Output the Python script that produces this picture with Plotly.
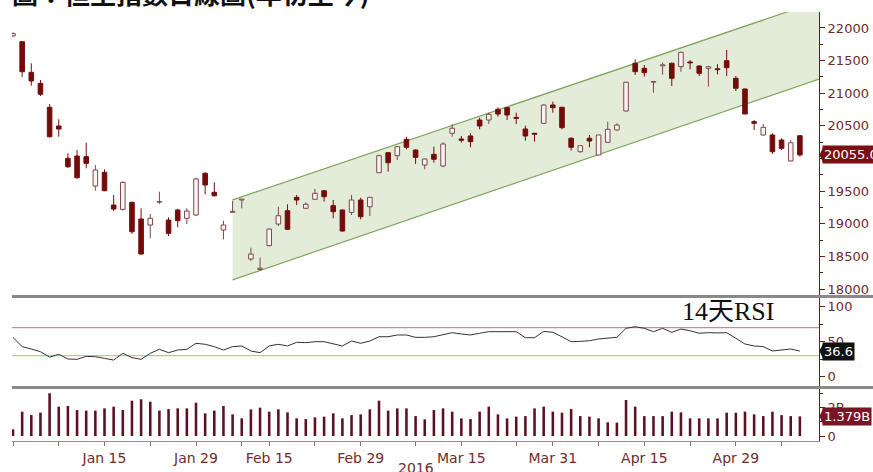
import plotly.graph_objects as go

# ---------------- data ----------------
dec_days = [31]
jan_days = [4, 5, 6, 7, 8, 11, 12, 13, 14, 15, 18, 19, 20, 21, 22, 25, 26, 27, 28, 29]
feb_days = [1, 2, 3, 4, 5, 11, 12, 15, 16, 17, 18, 19, 22, 23, 24, 25, 26, 29]
mar_days = [1, 2, 3, 4, 7, 8, 9, 10, 11, 14, 15, 16, 17, 18, 21, 22, 23, 24, 29, 30, 31]
apr_days = [1, 5, 6, 7, 8, 11, 12, 13, 14, 15, 18, 19, 20, 21, 22, 25, 26, 27, 28, 29]
may_days = [3, 4, 5, 6, 9, 10, 11]
dates = ([f"2015-12-{d:02d}" for d in dec_days] + [f"2016-01-{d:02d}" for d in jan_days] +
         [f"2016-02-{d:02d}" for d in feb_days] + [f"2016-03-{d:02d}" for d in mar_days] +
         [f"2016-04-{d:02d}" for d in apr_days] + [f"2016-05-{d:02d}" for d in may_days])

opens = [21880, 21790, 21321, 21152, 20785, 20498, 20003, 20038, 20028, 19578,
         19788, 19287, 19221, 19328, 19073, 18981, 19330, 19057, 19211, 19083,
         19134, 19773, 19482, 18904, 19175, 19365, 18460, 18300, 18664, 18996,
         19200, 19405, 19237, 19375, 19506, 19277, 19211, 19175, 19364, 19261,
         19782, 20089, 20043, 20294, 20130, 19900, 20064, 19885, 20386, 20299,
         20345, 20590, 20590, 20754, 20779, 20630, 20452, 20386, 20539, 20820,
         20785, 20310, 20104, 20310, 20054, 20248, 20437, 20728, 21459, 21382,
         21170, 21420, 21459, 21407, 21479, 21418, 21382, 21375, 21499, 21229,
         21065, 20564, 20360, 20360, 20283, 19962, 20349]
highs = [21935, 21795, 21459, 21203, 20835, 20601, 20080, 20130, 20242, 19900,
         19834, 19441, 19650, 19340, 19236, 19149, 19491, 19099, 19230, 19237,
         19706, 19790, 19635, 19047, 19353, 19380, 18633, 18480, 18925, 19261,
         19298, 19441, 19329, 19533, 19515, 19364, 19215, 19441, 19399, 19410,
         20060, 20095, 20190, 20334, 20140, 20000, 20181, 20250, 20524, 20345,
         20386, 20625, 20702, 20785, 20790, 20702, 20503, 20390, 20830, 20871,
         20790, 20325, 20200, 20360, 20365, 20564, 20540, 21175, 21520, 21433,
         21190, 21470, 21470, 21637, 21510, 21425, 21420, 21444, 21663, 21264,
         21070, 20590, 20529, 20386, 20310, 20283, 20355]
lows = [21860, 21250, 21116, 20958, 20320, 20334, 19854, 19690, 19850, 19506,
        19500, 19195, 19200, 18843, 18530, 18777, 19303, 18812, 18946, 18996,
        19120, 19451, 19415, 18762, 19170, 19236, 18429, 18280, 18655, 18965,
        18905, 19287, 19230, 19370, 19338, 19083, 18880, 19134, 19068, 19119,
        19780, 19798, 19977, 20141, 19916, 19834, 19936, 19865, 20334, 20242,
        20172, 20447, 20529, 20641, 20590, 20529, 20273, 20258, 20530, 20702,
        20447, 20120, 20090, 20172, 20050, 20240, 20425, 20720, 21280, 21254,
        21008, 21285, 21111, 21330, 21367, 21264, 21101, 21290, 21264, 21034,
        20680, 20437, 20350, 20069, 20130, 19955, 20028]
closes = [21914, 21330, 21188, 20984, 20334, 20452, 19874, 19706, 19926, 19824,
          19506, 19226, 19635, 18878, 18536, 19083, 19340, 18853, 19047, 19195,
          19686, 19594, 19430, 18981, 19190, 19378, 18536, 18319, 18919, 19123,
          18915, 19364, 19298, 19467, 19415, 19185, 18889, 19364, 19108, 19405,
          20043, 19936, 20181, 20172, 20018, 19992, 19988, 20222, 20463, 20279,
          20258, 20498, 20677, 20682, 20667, 20615, 20345, 20371, 20820, 20779,
          20472, 20172, 20196, 20268, 20360, 20447, 20513, 21168, 21330, 21315,
          21180, 21436, 21229, 21628, 21465, 21306, 21407, 21361, 21392, 21076,
          20682, 20539, 20478, 20104, 20156, 20242, 20055]

rsi = [56, 43, 39.6, 35.7, 28, 32, 25.3, 24.8, 29, 28.6,
       26.2, 23.8, 33.4, 27.2, 24.8, 33.4, 39.1, 34.3, 38.1, 39.1,
       47.7, 46.3, 42.9, 38.1, 42.9, 43.9, 36.7, 34.3, 43.9, 46.3,
       43.9, 49.1, 48.6, 50, 50, 46.7, 43.9, 51, 47.7, 51,
       57.1, 57.1, 59.6, 59.6, 56.2, 56.2, 57.1, 60, 62.9, 61,
       59.6, 62, 64.3, 64.3, 64.3, 64.3, 55.7, 55.7, 64.8, 63.4,
       57, 50, 50.5, 51.4, 53.9, 55, 56.3, 69.1, 71.4, 69.1,
       64.3, 69.1, 63.4, 68.1, 65.7, 62, 62.9, 62.5, 62.9, 54.9,
       46.7, 43.9, 42.9, 36.7, 38.1, 39.6, 36.6]

volume_b = [0.47, 1.71, 1.47, 1.64, 3.00, 2.06, 2.11, 1.82, 1.78, 1.78,
            1.94, 2.06, 1.82, 2.48, 2.58, 2.41, 1.78, 1.89, 1.94, 1.94,
            2.34, 1.59, 1.78, 2.11, 1.52, 1.24, 1.87, 1.99, 1.71, 1.87,
            1.66, 1.24, 1.19, 1.31, 1.36, 1.59, 1.24, 1.47, 1.52, 1.87,
            2.48, 1.78, 1.94, 1.94, 1.40, 1.17, 1.82, 1.94, 1.71, 1.24,
            1.19, 1.71, 2.06, 1.52, 1.24, 1.36, 1.40, 1.94, 2.06, 1.71,
            1.64, 1.89, 1.40, 1.36, 1.24, 0.96, 0.94, 2.53, 2.06, 1.40,
            1.40, 1.40, 1.71, 1.66, 1.24, 1.24, 1.24, 1.24, 1.64, 1.64,
            1.71, 1.52, 1.40, 1.71, 1.47, 1.40, 1.379]

# trend channel (x as trading-day index, y in index points)
channel_x = [24, 88.2]
channel_upper = [19367, 22417]
channel_lower = [18140, 21223]

rsi_overbought = 70
rsi_oversold = 30

label_dates = ["2016-01-15", "2016-01-29", "2016-02-15", "2016-02-29",
               "2016-03-15", "2016-03-31", "2016-04-15", "2016-04-29"]
label_text = ["Jan 15", "Jan 29", "Feb 15", "Feb 29", "Mar 15", "Mar 31", "Apr 15", "Apr 29"]
minor_dates = ["2015-12-31", "2016-01-08", "2016-01-22", "2016-02-05", "2016-02-22",
               "2016-03-08", "2016-03-23", "2016-04-08", "2016-04-22", "2016-05-09"]

price_ticks = [18000, 18500, 19000, 19500, 20000, 20500, 21000, 21500, 22000]
price_ticktext = ["18000", "18500", "19000", "19500", "", "20500", "21000", "21500", "22000"]
rsi_ticks = [0, 50, 100]
vol_ticks = [0, 2]
vol_ticktext = ["0", "2B"]

title_text = "圖：恒生指數日線圖(年初至今)"
last_price_text = "20055.06"

# ---------------- build ----------------
idx = list(range(len(dates)))
RED = "#740b0b"
HOLLOW_LINE = "#7d4848"
HOLLOW_FILL = "#fbf4f4"
AXIS = "#6b1a1a"
TXT = "#6e2c2c"

up = [i for i in idx if closes[i] >= opens[i]]
dn = [i for i in idx if closes[i] < opens[i]]


def wick_xy(ids):
    xs, ys = [], []
    for i in ids:
        lo_b = min(opens[i], closes[i])
        hi_b = max(opens[i], closes[i])
        xs += [i, i, None, i, i, None]
        ys += [lows[i], lo_b, None, hi_b, highs[i], None]
    return xs, ys


fig = go.Figure()

wx, wy = wick_xy(dn)
fig.add_trace(go.Scatter(x=wx, y=wy, mode="lines", line=dict(color=RED, width=1),
                         hoverinfo="skip", showlegend=False, xaxis="x", yaxis="y"))
wx, wy = wick_xy(up)
fig.add_trace(go.Scatter(x=wx, y=wy, mode="lines", line=dict(color=HOLLOW_LINE, width=1),
                         hoverinfo="skip", showlegend=False, xaxis="x", yaxis="y"))

fig.add_trace(go.Bar(x=dn, base=[closes[i] for i in dn], y=[opens[i] - closes[i] for i in dn],
                     width=0.5, marker=dict(color=RED, line=dict(color=RED, width=1)),
                     showlegend=False, xaxis="x", yaxis="y"))
fig.add_trace(go.Bar(x=up, base=[opens[i] for i in up], y=[closes[i] - opens[i] for i in up],
                     width=0.5, marker=dict(color=HOLLOW_FILL, line=dict(color=HOLLOW_LINE, width=1)),
                     showlegend=False, xaxis="x", yaxis="y"))

# RSI
fig.add_trace(go.Scatter(x=idx, y=rsi, mode="lines", line=dict(color="#333333", width=1),
                         showlegend=False, xaxis="x", yaxis="y2"))

# Volume
fig.add_trace(go.Bar(x=idx, y=volume_b, width=0.28, marker=dict(color="#5c1020", line=dict(width=0)),
                     showlegend=False, xaxis="x", yaxis="y3"))

shapes = []
path = (f"M {channel_x[0]},{channel_upper[0]} L {channel_x[1]},{channel_upper[1]} "
        f"L {channel_x[1]},{channel_lower[1]} L {channel_x[0]},{channel_lower[0]} Z")
shapes.append(dict(type="path", xref="x", yref="y", path=path, fillcolor="#e3ecd8",
                   line=dict(width=0), layer="below"))
shapes.append(dict(type="line", xref="x", yref="y", x0=channel_x[0], x1=channel_x[1],
                   y0=channel_upper[0], y1=channel_upper[1], line=dict(color="#80a45c", width=1.2), layer="below"))
shapes.append(dict(type="line", xref="x", yref="y", x0=channel_x[0], x1=channel_x[1],
                   y0=channel_lower[0], y1=channel_lower[1], line=dict(color="#80a45c", width=1.2), layer="below"))
shapes.append(dict(type="line", xref="paper", yref="y2", x0=0, x1=1, y0=rsi_overbought, y1=rsi_overbought,
                   line=dict(color="#c07070", width=1), layer="below"))
shapes.append(dict(type="line", xref="paper", yref="y2", x0=0, x1=1, y0=rsi_oversold, y1=rsi_oversold,
                   line=dict(color="#80d080", width=1), layer="below"))
for yy in (0.3368, 0.1247):
    shapes.append(dict(type="line", xref="paper", yref="paper", x0=0, x1=1.07, y0=yy, y1=yy,
                       line=dict(color="#8a8a8a", width=3)))


# small left-pointing pointers in front of the last-value tags (half-height in each axis' units)
def pointer(yref, yval, half, color):
    return dict(type="path", xref="paper", yref=yref,
                path=f"M 1.0005,{yval} L 1.0050,{yval + half} L 1.0050,{yval - half} Z",
                fillcolor=color, line=dict(width=0))


shapes.append(pointer("y", closes[-1], 115, "#7a1010"))
shapes.append(pointer("y2", rsi[-1], 10.5, "#111111"))
shapes.append(pointer("y3", volume_b[-1], 0.52, "#7a1525"))

annotations = [
    dict(text="<b>" + title_text + "</b>", xref="paper", yref="paper", x=-0.002, y=0.997,
         xanchor="left", yanchor="bottom",
         showarrow=False, font=dict(family="Noto Sans CJK TC", size=26, color="#111111")),
    dict(text="14天RSI", xref="paper", yref="paper", x=0.887, y=0.303, xanchor="center", yanchor="middle",
         showarrow=False, font=dict(family="Liberation Serif, Noto Sans CJK TC", size=26, color="#111111")),
    dict(text="2016", xref="paper", yref="paper", x=0.5, y=-0.063, xanchor="center", yanchor="middle",
         showarrow=False, font=dict(family="DejaVu Sans", size=14, color=TXT)),
    dict(text=last_price_text, xref="paper", yref="y", x=1.004, y=closes[-1], xanchor="left", yanchor="middle",
         showarrow=False, bgcolor="#7a1010", borderpad=1,
         font=dict(family="DejaVu Sans", size=13, color="white")),
    dict(text=f"{rsi[-1]:.1f}", xref="paper", yref="y2", x=1.004, y=rsi[-1], xanchor="left", yanchor="middle",
         showarrow=False, bgcolor="#111111", borderpad=1,
         font=dict(family="DejaVu Sans", size=13, color="white")),
    dict(text=f"{volume_b[-1]:.3f}B", xref="paper", yref="y3", x=1.004, y=volume_b[-1], xanchor="left",
         yanchor="middle", showarrow=False, bgcolor="#7a1525", borderpad=1,
         font=dict(family="DejaVu Sans", size=13, color="white")),
]

tick_pos = [dates.index(d) for d in label_dates] + [dates.index(d) for d in minor_dates]
tick_txt = label_text + [""] * len(minor_dates)

yfont = dict(family="DejaVu Sans", size=13, color=TXT)
common_y = dict(side="right", anchor="x", showline=True, linecolor=AXIS, linewidth=1,
                ticks="outside", ticklen=5, tickcolor=AXIS, showgrid=False, zeroline=False,
                tickfont=yfont, tickmode="array", automargin=False)

fig.update_layout(
    width=873, height=472,
    margin=dict(l=12, r=54, t=12, b=31, autoexpand=False),
    paper_bgcolor="white", plot_bgcolor="white",
    barmode="overlay", showlegend=False,
    xaxis=dict(domain=[0, 1], anchor="y3", range=[-0.11, 88.09], tickmode="array",
               tickvals=tick_pos, ticktext=tick_txt, ticks="outside", ticklen=4, automargin=False,
               tickcolor="#8c7070", showline=True, linecolor="#9a8a8a", linewidth=1,
               showgrid=False, zeroline=False, tickfont=dict(family="DejaVu Sans", size=14, color=TXT)),
    yaxis=dict(domain=[0.338, 1], range=[17893, 22245], tickvals=price_ticks, ticktext=price_ticktext,
               minor=dict(ticks="outside", ticklen=3, tickcolor=AXIS, tickmode="linear", tick0=0, dtick=250),
               **common_y),
    yaxis2=dict(domain=[0.1259, 0.3333], range=[-14.7, 112.4], tickvals=rsi_ticks,
                ticktext=[str(v) for v in rsi_ticks],
                minor=dict(ticks="outside", ticklen=3, tickcolor=AXIS, tickmode="linear", tick0=0, dtick=25),
                **common_y),
    yaxis3=dict(domain=[0, 0.1212], range=[-0.35, 3.30], tickvals=vol_ticks, ticktext=vol_ticktext,
                minor=dict(ticks="outside", ticklen=3, tickcolor=AXIS, tickmode="linear", tick0=0, dtick=1),
                **common_y),
    shapes=shapes,
    annotations=annotations,
)

fig.write_html("out.html", config={"displayModeBar": False},
               post_script="document.body.style.margin='0px';document.body.style.overflow='hidden';")
